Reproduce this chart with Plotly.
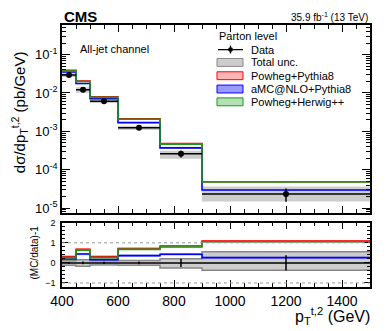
import plotly.graph_objects as go
from plotly.subplots import make_subplots

# bin edges in pT (GeV)
edges = [400, 450, 500, 600, 750, 900, 1500]

# measured cross section (pb/GeV) and uncertainties (relative)
data_xsec = [2.95e-2, 1.22e-2, 6.1e-3, 1.24e-3, 2.6e-4, 2.35e-5]
data_stat_rel = [0.04, 0.07, 0.05, 0.07, 0.20, 0.38]
tot_up_rel = [0.10, 0.15, 0.10, 0.12, 0.20, 0.55]
tot_dn_rel = [0.12, 0.17, 0.10, 0.12, 0.26, 0.37]

# (MC/data)-1
ratio_powheg_py8 = [0.31, 0.68, 0.31, 0.71, 0.84, 1.08]
ratio_amc_py8 = [0.19, 0.44, 0.16, 0.36, 0.43, 0.26]
ratio_powheg_hw = [0.26, 0.63, 0.26, 0.67, 0.79, 1.05]
mc_unc_rel = {"Powheg+Pythia8": 0.03, "aMC@NLO+Pythia8": 0.04, "Powheg+Herwig++": 0.02}

# log-axis tick labels
ytick_vals = [1e-5, 1e-4, 1e-3, 1e-2, 1e-1]
ytick_text = ["10<sup>-5</sup>", "10<sup>-4</sup>", "10<sup>-3</sup>", "10<sup>-2</sup>", "10<sup>-1</sup>"]

MODELS = [
    ("Powheg+Pythia8", ratio_powheg_py8, "#ff0000", "rgba(255,120,120,0.6)"),
    ("aMC@NLO+Pythia8", ratio_amc_py8, "#0000ff", "rgba(120,120,255,0.6)"),
    ("Powheg+Herwig++", ratio_powheg_hw, "#1a9a1a", "rgba(120,200,120,0.6)"),
]

centers = [(a + b) / 2 for a, b in zip(edges[:-1], edges[1:])]
halfw = [(b - a) / 2 for a, b in zip(edges[:-1], edges[1:])]


def step(vals):
    return list(vals) + [vals[-1]]


fig = make_subplots(rows=2, cols=1, shared_xaxes=False)


def band(lo, hi, row, fillcolor, linecolor="rgba(0,0,0,0)", lw=0):
    fig.add_trace(go.Scatter(x=edges, y=step(lo), mode="lines", line=dict(shape="hv", width=lw, color=linecolor),
                             showlegend=False, hoverinfo="skip"), row=row, col=1)
    fig.add_trace(go.Scatter(x=edges, y=step(hi), mode="lines", line=dict(shape="hv", width=lw, color=linecolor),
                             fill="tonexty", fillcolor=fillcolor, showlegend=False, hoverinfo="skip"),
                  row=row, col=1)


# ---- top panel ----
band([d * (1 - r) for d, r in zip(data_xsec, tot_dn_rel)],
     [d * (1 + r) for d, r in zip(data_xsec, tot_up_rel)], 1, "#cdcdcd")

for name, ratio, col, fcol in MODELS:
    mc = [d * (1 + r) for d, r in zip(data_xsec, ratio)]
    u = mc_unc_rel[name]
    band([m * (1 - u) for m in mc], [m * (1 + u) for m in mc], 1, fcol)
    fig.add_trace(go.Scatter(x=edges, y=step(mc), mode="lines", line=dict(shape="hv", width=1.6, color=col),
                             showlegend=False), row=1, col=1)

fig.add_trace(go.Scatter(
    x=centers, y=data_xsec, mode="markers", marker=dict(color="black", size=6),
    error_x=dict(type="data", array=halfw, width=0, color="black", thickness=1.5),
    error_y=dict(type="data", array=[d * r for d, r in zip(data_xsec, data_stat_rel)], width=0, color="black",
                 thickness=1.5),
    showlegend=False), row=1, col=1)

# ---- ratio panel ----
band([-r for r in tot_dn_rel], tot_up_rel, 2, "#cdcdcd", "#888888", 1.5)

for name, ratio, col, fcol in MODELS:
    u = mc_unc_rel[name]
    band([(1 + r) * (1 - u) - 1 for r in ratio], [(1 + r) * (1 + u) - 1 for r in ratio], 2, fcol)
    fig.add_trace(go.Scatter(x=edges, y=step(ratio), mode="lines", line=dict(shape="hv", width=1.6, color=col),
                             showlegend=False), row=2, col=1)

fig.add_trace(go.Scatter(
    x=centers, y=[0] * len(centers), mode="markers", marker=dict(color="black", size=1),
    error_x=dict(type="data", array=halfw, width=0, color="black", thickness=1.5),
    error_y=dict(type="data", array=data_stat_rel, width=0, color="black", thickness=1.5),
    showlegend=False), row=2, col=1)

for yv in (1, -1):
    fig.add_shape(type="line", xref="x2 domain", yref="y2", x0=0, x1=1, y0=yv, y1=yv,
                  line=dict(color="#999999", width=1, dash="dot"))

axis_common = dict(showline=True, linecolor="black", linewidth=1.5, mirror="allticks", ticks="inside",
                   tickcolor="black", showgrid=False, zeroline=False)
fig.update_xaxes(range=[400, 1500], dtick=200, ticklen=7, tickwidth=1,
                 minor=dict(dtick=50, ticks="inside", ticklen=4, tickcolor="black"), **axis_common)
fig.update_xaxes(showticklabels=False, row=1, col=1)
fig.update_xaxes(tickfont=dict(size=14, color="black"), row=2, col=1)
fig.update_yaxes(type="log", range=[-5.13, -0.23], tickvals=ytick_vals, ticktext=ytick_text, ticklen=8,
                 minor=dict(dtick="D1", ticks="inside", ticklen=4, tickcolor="black"),
                 tickfont=dict(size=13, color="black"), row=1, col=1, **axis_common)
fig.update_yaxes(range=[-1.2, 2.0], dtick=1, ticklen=6,
                 minor=dict(dtick=0.2, ticks="inside", ticklen=3, tickcolor="black"), ticklabelstandoff=3,
                 tickfont=dict(size=9, color="black"), row=2, col=1, **axis_common)

# page body adds an 8px offset; positions below are in window pixels
OFF = 8
W, H = 390 - OFF, 331 - OFF
L, R, T, B = 62 - OFF, 20, 21 - OFF, 44
PW, PH = 308, 266


def px(x):
    return (x - 62) / PW


def py(y):
    return (287 - y) / PH


fig.update_layout(yaxis=dict(domain=[py(212), 1]), yaxis2=dict(domain=[0, py(221.7)]))

ann = [
    dict(text="<b>CMS</b>", x=px(62), y=py(12), xanchor="left", font=dict(size=15)),
    dict(text="35.9 fb<sup>-1</sup> (13 TeV)", x=px(370), y=py(13), xanchor="right", font=dict(size=10)),
    dict(text="All-jet channel", x=px(78), y=py(45), xanchor="left", font=dict(size=11)),
    dict(text="Parton level", x=px(217), y=py(32), xanchor="left", font=dict(size=11)),
    dict(text="dσ/dp<sub>T</sub><sup>t,2</sup> (pb/GeV)", x=px(19.5), y=py(110), xanchor="center",
         textangle=-90, font=dict(size=15)),
    dict(text="(MC/data)-1", x=px(35), y=py(252), xanchor="center", textangle=-90, font=dict(size=10)),
    dict(text="p<sub>T</sub><sup>t,2</sup> (GeV)", x=px(372), y=py(316), xanchor="right", font=dict(size=16)),
]

legend_rows = [
    ("Data", 46, None, None),
    ("Total unc.", 59, "#cdcdcd", "#888888"),
    ("Powheg+Pythia8", 72.5, "rgba(255,150,150,0.7)", "#ff0000"),
    ("aMC@NLO+Pythia8", 86, "rgba(130,130,255,0.8)", "#0000ff"),
    ("Powheg+Herwig++", 99, "rgba(150,210,150,0.7)", "#1a9a1a"),
]
shapes = []
for label, yc, fc, lc in legend_rows:
    ann.append(dict(text=label, x=px(249), y=py(yc), xanchor="left", font=dict(size=11)))
    if fc is None:
        shapes.append(dict(type="line", x0=px(218), x1=px(243), y0=py(yc), y1=py(yc),
                           line=dict(color="black", width=1.3)))
        shapes.append(dict(type="line", x0=px(230.5), x1=px(230.5), y0=py(yc - 4), y1=py(yc + 4),
                           line=dict(color="black", width=1.3)))
        shapes.append(dict(type="circle", x0=px(228), x1=px(233), y0=py(yc - 2.5), y1=py(yc + 2.5),
                           fillcolor="black", line=dict(width=0)))
    else:
        shapes.append(dict(type="rect", x0=px(217), x1=px(243), y0=py(yc - 4), y1=py(yc + 4),
                           fillcolor=fc, line=dict(color=lc, width=1)))
for s in shapes:
    s.update(xref="paper", yref="paper")

for a in ann:
    a.update(xref="paper", yref="paper", showarrow=False, yanchor=a.get("yanchor", "middle"))
    a["font"] = dict(family="Liberation Sans, Arial", color="black", **a["font"])
fig.update_layout(
    width=W, height=H, margin=dict(l=L, r=R, t=T, b=B),
    paper_bgcolor="white", plot_bgcolor="white",
    font=dict(family="Liberation Sans, Arial", color="black"),
    annotations=ann, shapes=list(fig.layout.shapes) + shapes,
    showlegend=False,
)

fig.write_html("out.html")
